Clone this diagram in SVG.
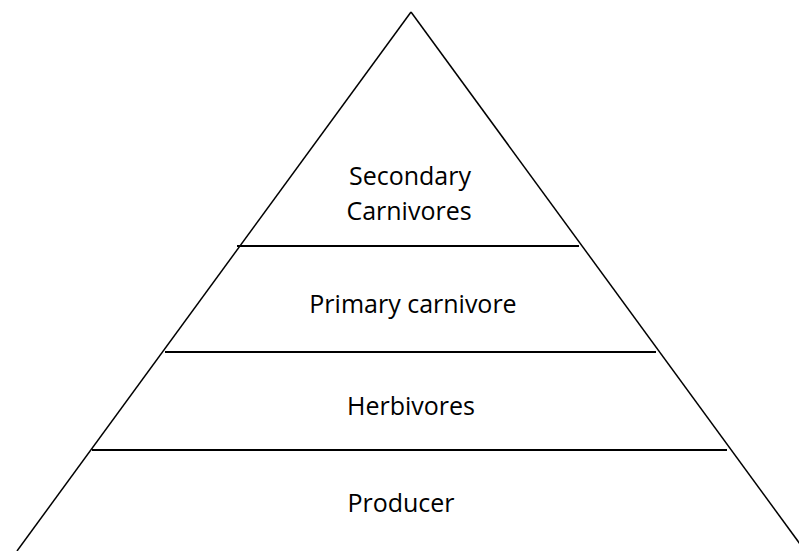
<svg xmlns="http://www.w3.org/2000/svg" width="799" height="551" viewBox="0 0 799 551">
<style>
.edge{stroke:#000;stroke-width:1.5;fill:none}
.lvl{stroke:#000;stroke-width:2;fill:none}
.lbl{font-family:"Open Sans","Liberation Sans",sans-serif;font-size:25px;fill:#000;text-anchor:middle}
</style>
<rect width="799" height="551" fill="#fff"/>
<g id="connectors">
<line class="edge" x1="411" y1="12" x2="17" y2="551"/>
<line class="edge" x1="411" y1="12" x2="800" y2="544"/>
<line class="lvl" x1="237" y1="246" x2="579" y2="246"/>
<line class="lvl" x1="165" y1="352" x2="656" y2="352"/>
<line class="lvl" x1="92" y1="450" x2="727" y2="450"/>
</g>
<g id="secondary"><text class="lbl" x="410" y="185">Secondary</text><text class="lbl" x="409" y="220">Carnivores</text></g>
<g id="primary"><text class="lbl" x="413" y="313">Primary carnivore</text></g>
<g id="herbivores"><text class="lbl" x="411" y="415">Herbivores</text></g>
<g id="producer"><text class="lbl" x="401" y="512">Producer</text></g>
</svg>
